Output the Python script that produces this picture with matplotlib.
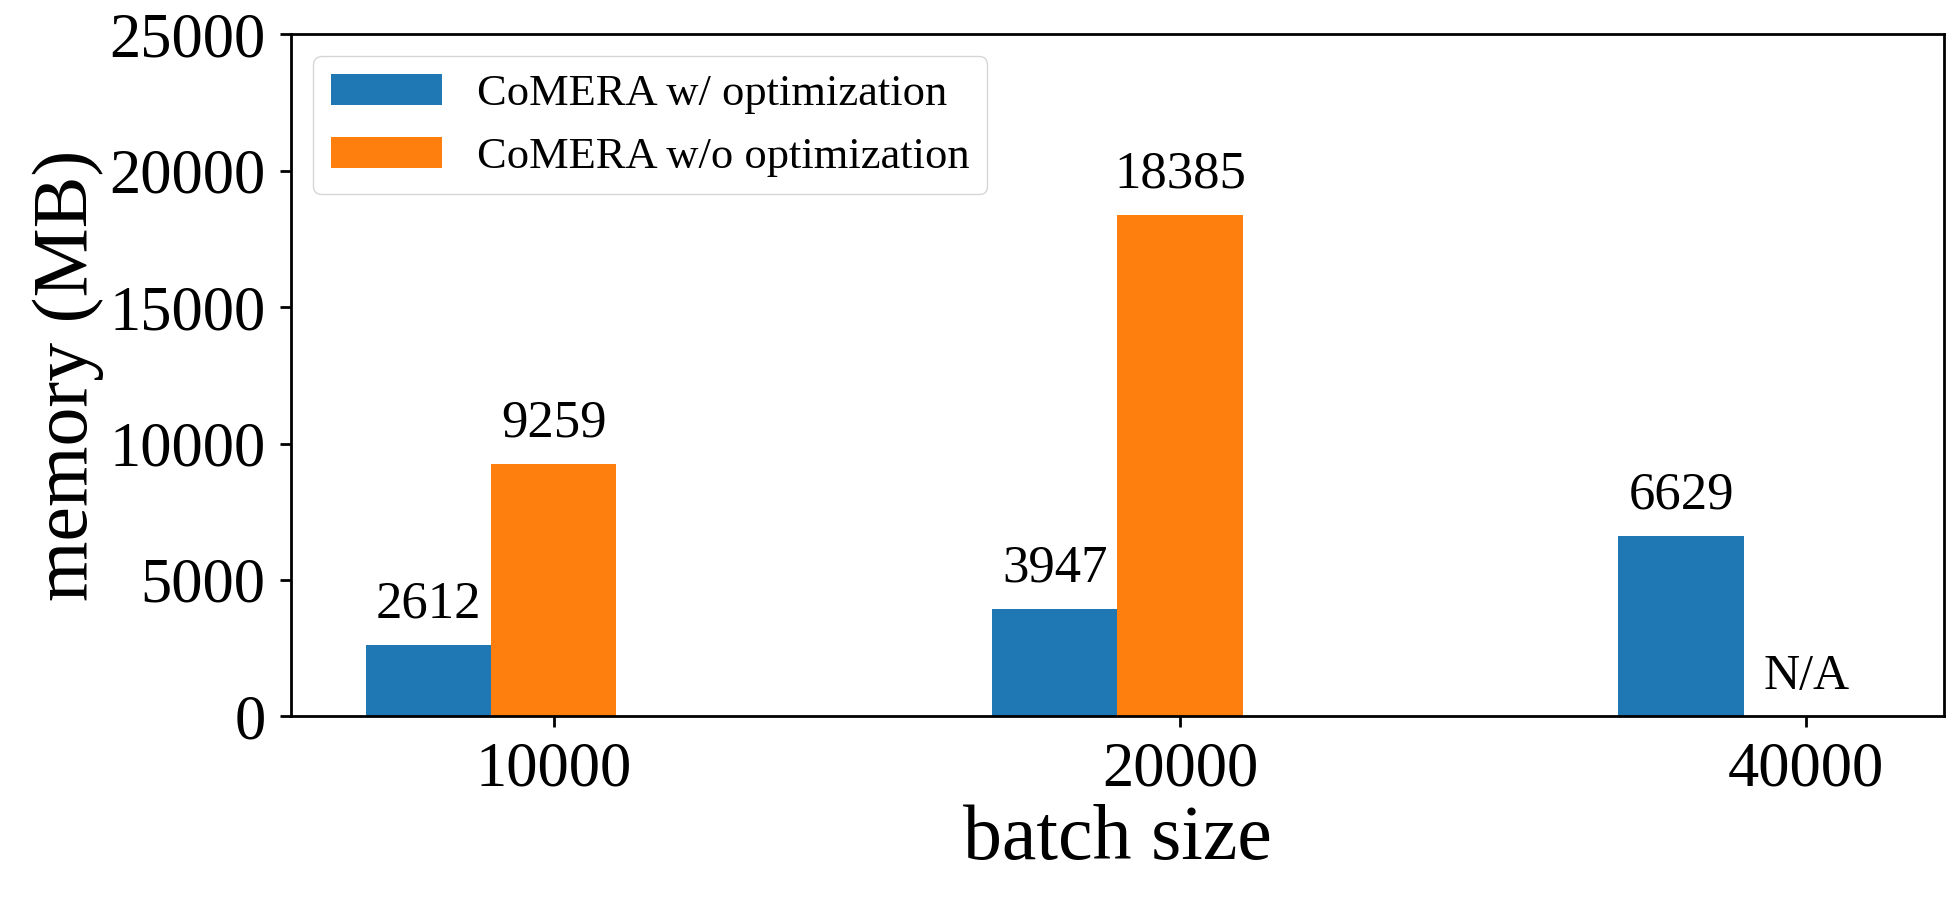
import numpy as np
import matplotlib
matplotlib.use("Agg")
from matplotlib import pyplot as plt

plt.rcParams['font.family'] = ['Liberation Serif', 'DejaVu Serif']

batch_sizes = ['10000', '20000', '40000']
with_opt = [2612, 3947, 6629]
without_opt = [9259, 18385, 0]
without_labels = ['9259', '18385', 'N/A']

x = np.arange(len(batch_sizes))
w = 0.2

fig, ax = plt.subplots(figsize=(19.5, 9), dpi=100)
fig.subplots_adjust(left=0.149, right=0.997, top=0.962, bottom=0.204)

ax.bar(x - w, with_opt, w, color='#1f77b4', label='CoMERA w/ optimization')
ax.bar(x, without_opt, w, color='#ff7f0e', label='CoMERA w/o optimization')

# value labels above the bars
for xi, v in zip(x - w, with_opt):
    ax.text(xi, v + 600, str(v), ha='center', va='bottom', fontsize=38)
for xi, v, lab in zip(x, without_opt, without_labels):
    ax.text(xi, v + 600, lab, ha='center', va='bottom',
            fontsize=38 if lab != 'N/A' else 36)

ax.set_ylim(0, 25000)
ax.set_xticks(x)
ax.set_xticklabels(batch_sizes)
ax.tick_params(labelsize=45, width=2, length=8, pad=10)
for s in ax.spines.values():
    s.set_linewidth(2)
ax.set_xlabel('batch size', fontsize=56)
ax.set_ylabel('memory (MB)', fontsize=56)
ax.legend(loc='upper left', fontsize=32, handlelength=2.5)

fig.savefig('out.png')
